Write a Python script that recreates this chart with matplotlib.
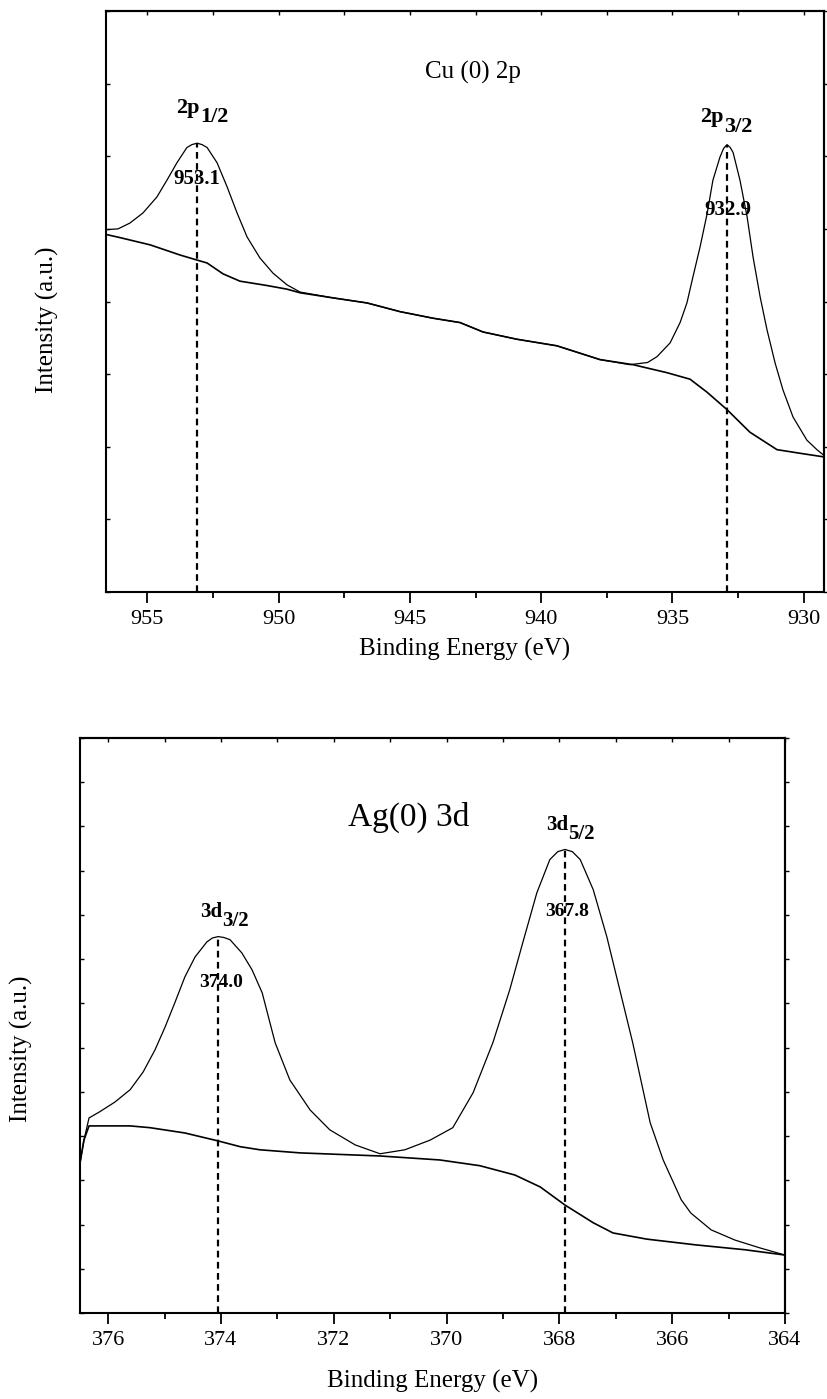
"""XPS spectra of Cu(0) 2p and Ag(0) 3d regions with fitted envelopes."""

import matplotlib

matplotlib.use("Agg")
import matplotlib.pyplot as plt
from matplotlib.ticker import MultipleLocator

plt.rcParams["font.family"] = ["Liberation Serif", "DejaVu Serif"]

# ---- Cu 2p (intensity in arbitrary units) ----
CU_BG_E = [956.53, 956.04, 954.89, 953.75, 953.10, 952.72, 952.11, 951.47, 950.44, 949.68,
           949.18, 947.93, 946.63, 945.37, 944.12, 943.09, 942.21, 940.92, 939.40, 937.76,
           936.50, 935.21, 934.33, 933.68, 932.92, 932.05, 931.02, 930.14, 929.23]
CU_BG_I = [4.92, 4.88, 4.78, 4.64, 4.57, 4.53, 4.38, 4.28, 4.22, 4.17,
           4.12, 4.05, 3.98, 3.86, 3.77, 3.71, 3.58, 3.48, 3.39, 3.20,
           3.13, 3.02, 2.93, 2.75, 2.51, 2.20, 1.96, 1.91, 1.86]

CU_ENV_E = [956.53, 956.11, 955.66, 955.16, 954.63, 954.25, 953.87, 953.49, 953.30, 953.10,
            952.91, 952.72, 952.34, 951.96, 951.58, 951.20, 950.71, 950.21, 949.68, 949.18,
            947.93, 946.63, 945.37, 944.12, 943.09, 942.21, 940.92, 939.40, 937.76, 936.62,
            935.95, 935.59, 935.09, 934.71, 934.45, 934.22, 933.95, 933.68, 933.46, 933.19,
            933.05, 932.92, 932.80, 932.69, 932.43, 932.16, 931.93, 931.66, 931.40, 931.09,
            930.79, 930.41, 929.88, 929.50, 929.23]
CU_ENV_I = [4.99, 5.00, 5.08, 5.22, 5.44, 5.67, 5.91, 6.12, 6.16, 6.18,
            6.16, 6.12, 5.91, 5.58, 5.22, 4.89, 4.60, 4.39, 4.23, 4.13,
            4.05, 3.98, 3.86, 3.77, 3.71, 3.58, 3.48, 3.39, 3.20, 3.13,
            3.16, 3.24, 3.43, 3.71, 3.98, 4.34, 4.75, 5.21, 5.67, 5.99,
            6.11, 6.16, 6.12, 6.05, 5.67, 5.17, 4.61, 4.06, 3.61, 3.15,
            2.78, 2.41, 2.09, 1.96, 1.88]

CU_PEAKS = [953.1, 932.92]
CU_PEAK_I = [6.18, 6.16]
CU_PEAK_TEXT = ["953.1", "932.9"]
CU_LEVELS = [("2p", "1/2"), ("2p", "3/2")]

# ---- Ag 3d ----
AG_BG_E = [376.50, 376.43, 376.34, 375.61, 375.26, 374.64, 374.05, 373.66, 373.31, 372.60,
           371.18, 370.12, 369.41, 368.79, 368.34, 367.90, 367.40, 367.05, 366.45, 365.58,
           364.71, 364.00]
AG_BG_I = [3.39, 3.91, 4.23, 4.23, 4.19, 4.07, 3.89, 3.76, 3.69, 3.62,
           3.55, 3.46, 3.33, 3.12, 2.85, 2.44, 2.04, 1.81, 1.67, 1.54,
           1.43, 1.31]

AG_ENV_E = [376.50, 376.43, 376.34, 376.15, 375.88, 375.61, 375.38, 375.17, 374.99, 374.82,
            374.64, 374.46, 374.25, 374.15, 374.05, 373.95, 373.84, 373.63, 373.45, 373.27,
            373.04, 372.78, 372.42, 372.07, 371.62, 371.18, 370.74, 370.29, 369.89, 369.53,
            369.18, 368.88, 368.65, 368.40, 368.17, 368.03, 367.90, 367.77, 367.63, 367.40,
            367.16, 366.93, 366.70, 366.39, 366.16, 365.84, 365.67, 365.31, 364.89, 364.44,
            364.00]
AG_ENV_I = [3.39, 3.91, 4.41, 4.55, 4.77, 5.05, 5.45, 5.95, 6.47, 7.01,
            7.60, 8.05, 8.39, 8.48, 8.51, 8.49, 8.44, 8.14, 7.76, 7.24,
            6.11, 5.27, 4.59, 4.14, 3.80, 3.60, 3.69, 3.91, 4.19, 4.98,
            6.11, 7.31, 8.37, 9.50, 10.25, 10.43, 10.48, 10.43, 10.25, 9.57,
            8.51, 7.31, 6.11, 4.30, 3.46, 2.56, 2.26, 1.88, 1.65, 1.47,
            1.31]

AG_PEAKS = [374.05, 367.90]
AG_PEAK_I = [8.51, 10.48]
AG_PEAK_TEXT = ["374.0", "367.8"]
AG_LEVELS = [("3d", "3/2"), ("3d", "5/2")]


def peak_label(ax, x, y, main, sub, size):
    ax.annotate(main, (x, y), ha="right", va="baseline", fontsize=size, fontweight="bold")
    ax.annotate(sub, (x, y), xytext=(0, -7), textcoords="offset points",
                ha="left", va="baseline", fontsize=size, fontweight="bold")


def style_axes(ax, xlim, xmajor, xminor, ymax):
    ax.set_xlim(*xlim)
    ax.set_ylim(0, ymax)
    ax.xaxis.set_major_locator(MultipleLocator(xmajor))
    ax.xaxis.set_minor_locator(MultipleLocator(xminor))
    ax.yaxis.set_major_locator(MultipleLocator(1))
    ax.tick_params(axis="x", which="major", direction="out", length=8, width=1.3,
                   labelsize=16, pad=5)
    ax.tick_params(axis="x", which="minor", direction="out", length=4.5, width=1.3)
    ax.tick_params(axis="y", which="major", direction="in", length=3, width=1,
                   labelleft=False)
    top = ax.secondary_xaxis("top")
    top.xaxis.set_major_locator(MultipleLocator(xminor))
    top.tick_params(direction="in", length=3, width=1, labeltop=False)
    right = ax.secondary_yaxis("right")
    right.yaxis.set_major_locator(MultipleLocator(1))
    right.tick_params(direction="out", length=3, width=1, labelright=False)
    for sec in (top, right):
        for spine in sec.spines.values():
            spine.set_linewidth(1.5)
    for spine in ax.spines.values():
        spine.set_linewidth(1.5)
    ax.set_xlabel("Binding Energy (eV)", fontsize=18)
    ax.set_ylabel("Intensity (a.u.)", fontsize=18)


def draw_panel(ax, bg_e, bg_i, env_e, env_i, peaks, peak_i, peak_text, levels,
               num_pos, level_pos, num_size, level_size):
    ax.plot(env_e, env_i, color="black", lw=0.9)
    ax.plot(bg_e, bg_i, color="black", lw=1.2)
    for x, top in zip(peaks, peak_i):
        ax.plot([x, x], [0, top], color="black", lw=1.6, linestyle=(0, (3, 2)))
    for (x, y), txt in zip(num_pos, peak_text):
        ax.text(x, y, txt, ha="center", va="center", fontsize=num_size, fontweight="bold")
    for (x, y), (main, sub) in zip(level_pos, levels):
        peak_label(ax, x, y, main, sub, level_size)


fig = plt.figure(figsize=(8.28, 13.99), dpi=100)
ax_cu = fig.add_axes([106 / 828, 1 - 592 / 1399, 718 / 828, 581 / 1399])
ax_ag = fig.add_axes([80 / 828, 1 - 1313 / 1399, 705 / 828, 575 / 1399])

draw_panel(ax_cu, CU_BG_E, CU_BG_I, CU_ENV_E, CU_ENV_I, CU_PEAKS, CU_PEAK_I, CU_PEAK_TEXT,
           CU_LEVELS, [(953.1, 5.69), (932.88, 5.26)], [(952.99, 6.60), (933.04, 6.47)],
           15, 16)
style_axes(ax_cu, (956.57, 929.23), 5, 2.5, 8)
ax_cu.text(942.6, 7.16, "Cu (0) 2p", ha="center", va="center", fontsize=18)
ax_cu.xaxis.set_label_coords(0.5, -0.079)
ax_cu.yaxis.set_label_coords(-0.065, 0.468)

draw_panel(ax_ag, AG_BG_E, AG_BG_I, AG_ENV_E, AG_ENV_I, AG_PEAKS, AG_PEAK_I, AG_PEAK_TEXT,
           AG_LEVELS, [(374.0, 7.47), (367.87, 9.07)], [(373.98, 8.96), (367.85, 10.93)],
           14, 15)
style_axes(ax_ag, (376.5, 364.0), 2, 1, 13)
ax_ag.text(370.68, 11.2, "Ag(0) 3d", ha="center", va="center", fontsize=24)
ax_ag.xaxis.set_label_coords(0.5, -0.099)
ax_ag.yaxis.set_label_coords(-0.067, 0.46)

fig.savefig("out.png", dpi=100)
